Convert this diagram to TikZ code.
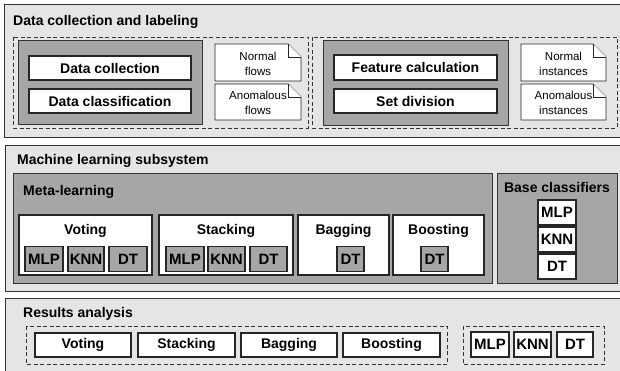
\documentclass[tikz,border=0pt]{standalone}
\usepackage{fontspec}
\setmainfont{Liberation Sans}
\begin{document}
\begin{tikzpicture}[x=1pt,y=-1pt,line join=miter,
  panel/.style={draw=black!80,fill=black!10,line width=0.9pt},
  grp/.style={draw=black!80,fill=black!35,line width=0.9pt},
  dgrp/.style={draw=black!80,line width=0.9pt,dash pattern=on 4pt off 2.5pt},
  box/.style={draw=black!85,fill=white,line width=1.1pt,inner sep=0pt,outer sep=0pt,font=\fontsize{14}{16}\selectfont\bfseries},
  sbox/.style={box,font=\fontsize{15}{16}\selectfont\bfseries},
  gbox/.style={sbox,fill=black!35},
  doc/.style={draw=black!85,fill=white,line width=0.9pt},
  doctxt/.style={align=center,font=\fontsize{11.5}{15}\selectfont},
  ttl/.style={anchor=west,inner sep=0pt,font=\fontsize{14}{16}\selectfont\bfseries},
  lbl/.style={inner sep=0pt,font=\fontsize{14}{16}\selectfont\bfseries}]
\useasboundingbox (0,0) rectangle (620,371);
\clip (0,0) rectangle (620,371);
\draw[panel] (4,4) rectangle (630,137);
\node[ttl] (t1) at (13,22) {Data collection and labeling};
\draw[dgrp] (13,37) rectangle (308,128);
\draw[dgrp] (312,37) rectangle (617,128);
\draw[grp] (18,40) rectangle (202,124);
\node[box,minimum width=162,minimum height=24] (dcol) at (110,68) {Data collection};
\node[box,minimum width=162,minimum height=24] (dcla) at (110,101) {Data classification};
\draw[doc] (215,44) -- (288,44) -- (301,57) -- (301,81) -- (215,81) -- cycle;
\draw[doc] (288,44) -- (288,57) -- (301,57);
\node[doctxt] (nfl) at (258,64) {Normal\\flows};
\draw[doc] (215,84) -- (288,84) -- (301,97) -- (301,120) -- (215,120) -- cycle;
\draw[doc] (288,84) -- (288,97) -- (301,97);
\node[doctxt] (afl) at (258,103) {Anomalous\\flows};
\draw[grp] (323,40) rectangle (508,125);
\node[box,minimum width=163,minimum height=25] (fcal) at (415.5,67.5) {Feature calculation};
\node[box,minimum width=163,minimum height=24] (sdiv) at (415.5,101) {Set division};
\draw[doc] (521,44) -- (593,44) -- (606,57) -- (606,81) -- (521,81) -- cycle;
\draw[doc] (593,44) -- (593,57) -- (606,57);
\node[doctxt] (nins) at (563.5,64) {Normal\\instances};
\draw[doc] (521,84) -- (593,84) -- (606,97) -- (606,120) -- (521,120) -- cycle;
\draw[doc] (593,84) -- (593,97) -- (606,97);
\node[doctxt] (ains) at (563.5,103) {Anomalous\\instances};
\draw[panel] (5,145) rectangle (630,291);
\node[ttl] (t2) at (17,161) {Machine learning subsystem};
\draw[grp] (13,173) rectangle (492,283);
\node[ttl] (t3) at (23,192) {Meta-learning};
\node[box,minimum width=133,minimum height=60] (vot) at (85.5,245) {};
\node[lbl] (votl) at (85.5,231) {Voting};
\node[gbox,minimum width=38,minimum height=25] (vmlp) at (44,259) {MLP};
\node[gbox,minimum width=36,minimum height=25] (vknn) at (86,259) {KNN};
\node[gbox,minimum width=38,minimum height=25] (vdt) at (128,259) {DT};
\node[box,minimum width=134,minimum height=60] (sta) at (226,245) {};
\node[lbl] (stal) at (226,231) {Stacking};
\node[gbox,minimum width=38,minimum height=25] (smlp) at (185,259) {MLP};
\node[gbox,minimum width=37,minimum height=25] (sknn) at (226.5,259) {KNN};
\node[gbox,minimum width=37,minimum height=25] (sdt) at (268.5,259) {DT};
\node[box,minimum width=91,minimum height=60] (bag) at (343.5,245) {};
\node[lbl] (bagl) at (343.5,231) {Bagging};
\node[gbox,minimum width=27,minimum height=25] (bdt) at (350.5,259) {DT};
\node[box,minimum width=91,minimum height=60] (boo) at (438.5,245) {};
\node[lbl] (bool) at (438.5,231) {Boosting};
\node[gbox,minimum width=27,minimum height=25] (odt) at (434.5,259) {DT};
\draw[grp] (497,173) rectangle (617,283);
\node[lbl] (t4) at (557,187) {Base classifiers};
\node[sbox,minimum width=38,minimum height=25] (cmlp) at (557,212.5) {MLP};
\node[sbox,minimum width=38,minimum height=25] (cknn) at (557,239.5) {KNN};
\node[sbox,minimum width=38,minimum height=25] (cdt) at (557,266.5) {DT};
\draw[panel] (5,298) rectangle (630,390);
\node[ttl] (t5) at (23,314) {Results analysis};
\draw[dgrp] (26,326) rectangle (447,364);
\node[box,minimum width=96,minimum height=24] (rvot) at (83,345) {Voting};
\node[box,minimum width=97,minimum height=24] (rsta) at (186.5,345) {Stacking};
\node[box,minimum width=96,minimum height=24] (rbag) at (289,345) {Bagging};
\node[box,minimum width=97,minimum height=24] (rboo) at (391.5,345) {Boosting};
\draw[dgrp] (463,326) rectangle (604,364);
\node[sbox,minimum width=38,minimum height=25] (rmlp) at (490,344.5) {MLP};
\node[sbox,minimum width=37,minimum height=25] (rknn) at (532.5,344.5) {KNN};
\node[sbox,minimum width=36,minimum height=25] (rdt) at (575,344.5) {DT};
\end{tikzpicture}
\end{document}
